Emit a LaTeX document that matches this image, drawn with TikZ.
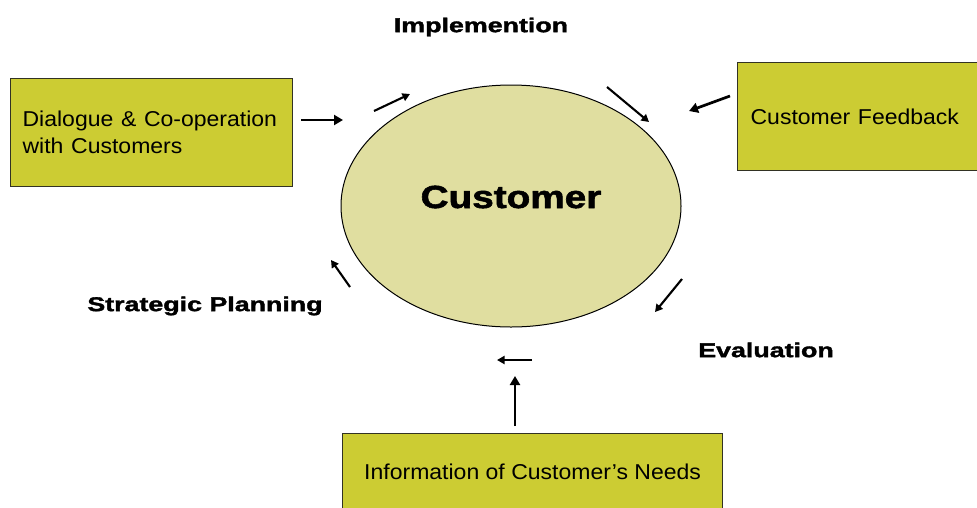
\documentclass[tikz,border=0pt]{standalone}
\usepackage{fontspec}
\setmainfont{Liberation Sans}
\newfontfamily\heavyfont{Liberation Sans Bold}[FakeBold=1.6]
\usetikzlibrary{arrows.meta,shapes.geometric}
\definecolor{boxfill}{RGB}{204,204,51}
\definecolor{ellfill}{RGB}{224,222,160}
\definecolor{boxline}{RGB}{50,50,35}

\begin{document}
\begin{tikzpicture}[x=1pt,y=-1pt,
  box/.style={draw=boxline, line width=1.2pt, fill=boxfill, inner ysep=0pt,
              font=\fontsize{21.5}{26}\selectfont},
  phase/.style={inner sep=0pt, font=\fontsize{20}{24}\heavyfont},
  flow/.style={-{Triangle[length=9pt,width=10pt]}, line width=2.7pt},
  turn/.style={-{Triangle[length=7.5pt,width=8pt]}, line width=2.1pt}]

\useasboundingbox (0,0) rectangle (977,507);

% central ellipse
\node[ellipse, draw=black, line width=1pt, fill=ellfill,
      minimum width=340pt, minimum height=242pt] (cust) at (511,206) {};
\node[inner sep=0pt, font=\fontsize{32}{36}\heavyfont] (custlbl) at (511,197)
  {\scalebox{1.21}[1]{Customer}};

% input boxes
\node[box, anchor=north west, minimum width=282pt, minimum height=108pt,
      text width=258pt, align=left, inner xsep=12pt] (dlg) at (10,78)
  {\raisebox{2pt}{\scalebox{1.07}[1]{Dialogue \& Co-operation}}\\\raisebox{1pt}{\scalebox{1.07}[1]{with Customers}}};
\node[box, anchor=north west, minimum width=252pt, minimum height=108pt,
      text width=226pt, align=left, inner xsep=13pt] (fb) at (737,62)
  {\raisebox{-2pt}{\scalebox{1.07}[1]{Customer Feedback}}};
\node[box, anchor=north west, minimum width=380pt, minimum height=78pt,
      inner xsep=0pt] (info) at (342,433)
  {\raisebox{1pt}{\scalebox{1.07}[1]{Information of Customer's Needs}}};

% phase labels
\node[phase] (impl) at (481,27) {\scalebox{1.34}[1]{Implemention}};
\node[phase] (plan) at (205,306) {\scalebox{1.34}[1]{Strategic Planning}};
\node[phase] (eval) at (766,350) {\scalebox{1.34}[1]{Evaluation}};

% arrow end points around the ellipse
\coordinate (dlgEnd) at (343,120);
\coordinate (fbStart) at (730,96);
\coordinate (fbEnd) at (689,111);
\coordinate (infoEnd) at (515,376);
\coordinate (c1a) at (374,111); \coordinate (c1b) at (410,94);
\coordinate (c2a) at (607,87);  \coordinate (c2b) at (649,122);
\coordinate (c3a) at (682,279); \coordinate (c3b) at (655,312);
\coordinate (c4a) at (532,360); \coordinate (c4b) at (497,360);
\coordinate (c5a) at (350,287); \coordinate (c5b) at (331,260);

% inputs into the cycle
\draw[flow] (dlg.east|-dlgEnd) ++(8,0) coordinate (dlgStart) -- (dlgEnd);
\draw[flow] (fbStart) -- (fbEnd);
\draw[flow] (info.north-|infoEnd) ++(0,-7) coordinate (infoStart) -- (infoEnd);

% cycle arrows
\draw[turn] (c1a) -- (c1b);
\draw[turn] (c2a) -- (c2b);
\draw[turn] (c3a) -- (c3b);
\draw[turn] (c4a) -- (c4b);
\draw[turn] (c5a) -- (c5b);
\end{tikzpicture}
\end{document}
